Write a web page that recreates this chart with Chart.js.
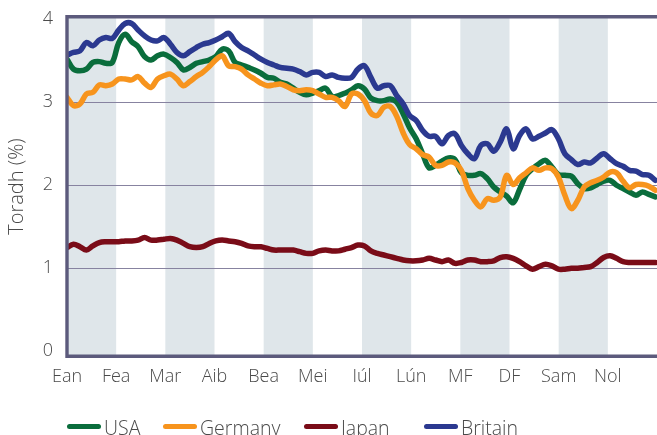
<!DOCTYPE html>
<html>
<head>
<meta charset="utf-8">
<script src="https://cdn.jsdelivr.net/npm/chart.js@4.4.1/dist/chart.umd.min.js"></script>
<style>
  html, body { margin: 0; padding: 0; background: #ffffff; }
  canvas { display: block; }
</style>
</head>
<body>
<canvas id="c" width="657" height="435"></canvas>
<script>
// ---------------- data ----------------
const monthLabels = ['Ean', 'Fea', 'Mar', 'Aib', 'Bea', 'Mei', 'Iúl', 'Lún', 'MF', 'DF', 'Sam', 'Nol'];
const days = Array.from({ length: 92 }, (_, i) => i * 4); // sample days through the year
const yTickValues = [0, 1, 2, 3, 4];
const seriesNames = ['USA', 'Germany', 'Japan', 'Britain'];

const usa = [
  3.52, 3.40, 3.38, 3.40, 3.48, 3.49, 3.47, 3.48, 3.72, 3.82,
  3.73, 3.67, 3.55, 3.51, 3.56, 3.58, 3.54, 3.48, 3.39, 3.42,
  3.47, 3.49, 3.51, 3.55, 3.64, 3.62, 3.48, 3.45, 3.42, 3.39,
  3.35, 3.30, 3.29, 3.24, 3.22, 3.17, 3.12, 3.09, 3.11, 3.14,
  3.17, 3.07, 3.08, 3.11, 3.15, 3.20, 3.16, 3.05, 3.02, 3.02,
  3.04, 3.00, 2.86, 2.69, 2.56, 2.38, 2.21, 2.24, 2.29, 2.33,
  2.31, 2.15, 2.12, 2.12, 2.14, 2.08, 1.98, 1.92, 1.87, 1.79,
  1.95, 2.12, 2.20, 2.26, 2.30, 2.22, 2.13, 2.12, 2.11, 2.02,
  1.96, 1.97, 2.01, 2.05, 2.06, 2.00, 1.96, 1.92, 1.88, 1.92,
  1.89, 1.86
];
const germany = [
  3.06, 2.96, 2.98, 3.10, 3.12, 3.21, 3.20, 3.22, 3.28, 3.28,
  3.27, 3.31, 3.23, 3.18, 3.28, 3.32, 3.34, 3.28, 3.20, 3.25,
  3.31, 3.36, 3.43, 3.51, 3.56, 3.44, 3.43, 3.40, 3.33, 3.28,
  3.23, 3.20, 3.21, 3.22, 3.19, 3.15, 3.14, 3.15, 3.14, 3.10,
  3.06, 3.06, 3.02, 2.95, 3.10, 3.10, 3.02, 2.87, 2.84, 2.94,
  2.95, 2.83, 2.63, 2.49, 2.44, 2.37, 2.34, 2.24, 2.24, 2.28,
  2.27, 2.18, 1.96, 1.82, 1.74, 1.84, 1.82, 1.86, 2.12, 2.01,
  2.09, 2.15, 2.21, 2.18, 2.21, 2.20, 2.10, 1.88, 1.72, 1.82,
  1.98, 2.03, 2.06, 2.10, 2.16, 2.15, 2.05, 1.97, 2.01, 2.01,
  1.99, 1.94
];
const japan = [
  1.25, 1.29, 1.26, 1.22, 1.27, 1.31, 1.32, 1.32, 1.32, 1.33,
  1.33, 1.34, 1.37, 1.34, 1.34, 1.35, 1.36, 1.34, 1.30, 1.26,
  1.25, 1.26, 1.30, 1.33, 1.34, 1.33, 1.32, 1.30, 1.27, 1.26,
  1.26, 1.24, 1.22, 1.22, 1.22, 1.22, 1.20, 1.18, 1.18, 1.21,
  1.22, 1.21, 1.21, 1.23, 1.25, 1.28, 1.27, 1.21, 1.18, 1.16,
  1.14, 1.12, 1.10, 1.09, 1.09, 1.10, 1.12, 1.10, 1.08, 1.10,
  1.06, 1.07, 1.10, 1.10, 1.08, 1.08, 1.09, 1.13, 1.14, 1.12,
  1.08, 1.03, 0.99, 1.02, 1.05, 1.03, 0.99, 0.99, 1.00, 1.00,
  1.01, 1.02, 1.07, 1.13, 1.15, 1.12, 1.08, 1.07, 1.07, 1.07,
  1.07, 1.07
];
const britain = [
  3.57, 3.60, 3.62, 3.72, 3.68, 3.75, 3.78, 3.77, 3.87, 3.95,
  3.95, 3.87, 3.80, 3.75, 3.74, 3.78, 3.70, 3.60, 3.56, 3.61,
  3.66, 3.70, 3.72, 3.75, 3.79, 3.83, 3.73, 3.66, 3.62, 3.57,
  3.52, 3.48, 3.45, 3.42, 3.41, 3.40, 3.37, 3.33, 3.36, 3.36,
  3.31, 3.33, 3.30, 3.29, 3.30, 3.40, 3.44, 3.30, 3.17, 3.20,
  3.20, 3.08, 2.98, 2.84, 2.78, 2.66, 2.59, 2.59, 2.50, 2.60,
  2.62, 2.48, 2.38, 2.32, 2.48, 2.50, 2.41, 2.52, 2.68, 2.44,
  2.60, 2.68, 2.56, 2.59, 2.63, 2.67, 2.56, 2.38, 2.31, 2.25,
  2.28, 2.27, 2.33, 2.38, 2.32, 2.26, 2.23, 2.18, 2.17, 2.13,
  2.12, 2.06
];

// ---------------- styling ----------------
const FONT = "'Open Sans', 'DejaVu Sans', sans-serif";
const TEXT = '#4a4a4a';
const COLORS = ['#0a6d3c', '#f7941d', '#7a0c18', '#2b3990'];
const DRAW_ORDER = [2, 1, 3, 0];
const YEAR = 365;

const toPoints = arr => arr.map((v, i) => ({ x: days[i], y: v }));
const allSeries = [usa, germany, japan, britain];

const bandsPlugin = {
  id: 'bands',
  beforeDraw(chart) {
    const { ctx, chartArea: a, scales: { x } } = chart;
    ctx.save();
    ctx.fillStyle = '#dfe6ea';
    for (let m = 0; m < monthLabels.length; m += 2) {
      const x0 = x.getPixelForValue(m * YEAR / 12);
      const x1 = x.getPixelForValue((m + 1) * YEAR / 12);
      ctx.fillRect(x0, a.top, x1 - x0, a.bottom - a.top);
    }
    ctx.restore();
  }
};

const framePlugin = {
  id: 'frame',
  afterDraw(chart) {
    const { ctx, chartArea: a } = chart;
    ctx.save();
    ctx.strokeStyle = '#5c5a7c';
    ctx.lineWidth = 3.4;
    ctx.lineJoin = 'miter';
    ctx.beginPath();
    ctx.moveTo(a.right + 4, a.top);
    ctx.lineTo(a.left, a.top);
    ctx.lineTo(a.left, a.bottom);
    ctx.lineTo(a.right + 4, a.bottom);
    ctx.stroke();
    ctx.restore();
  }
};

const legendPlugin = {
  id: 'customLegend',
  afterDraw(chart) {
    const { ctx } = chart;
    const starts = [67, 163, 304, 424];
    ctx.save();
    ctx.font = `300 19.5px ${FONT}`;
    ctx.fillStyle = TEXT;
    ctx.textBaseline = 'alphabetic';
    ctx.textAlign = 'left';
    chart.data.datasets.forEach((ds, i) => {
      const sx = starts[i];
      ctx.strokeStyle = ds.borderColor;
      ctx.lineWidth = 5;
      ctx.lineCap = 'round';
      ctx.beginPath();
      ctx.moveTo(sx + 2.5, 426.5);
      ctx.lineTo(sx + 31.5, 426.5);
      ctx.stroke();
      ctx.fillText(ds.label, sx + 37, 434.5);
    });
    ctx.restore();
  }
};

new Chart(document.getElementById('c'), {
  type: 'line',
  data: {
    datasets: allSeries.map((arr, i) => ({
      label: seriesNames[i],
      data: toPoints(arr),
      borderColor: COLORS[i],
      backgroundColor: COLORS[i],
      borderWidth: 5.5,
      borderCapStyle: 'round',
      borderJoinStyle: 'round',
      pointRadius: 0,
      pointHoverRadius: 0,
      tension: 0.35,
      fill: false,
      order: DRAW_ORDER[i]
    }))
  },
  options: {
    responsive: false,
    animation: false,
    devicePixelRatio: 1,
    layout: { padding: { left: 0, right: 0, top: 16.8, bottom: 0 } },
    plugins: {
      legend: { display: false },
      tooltip: { enabled: false }
    },
    scales: {
      x: {
        type: 'linear',
        min: 0,
        max: YEAR,
        afterBuildTicks: s => { s.ticks = monthLabels.map((_, m) => ({ value: m * YEAR / 12 })); },
        afterFit: s => { s.height = 435 - 356.3; s.paddingLeft = 0; s.paddingRight = 0; },
        grid: { display: false, drawTicks: false },
        border: { display: false },
        ticks: {
          autoSkip: false,
          maxRotation: 0,
          minRotation: 0,
          padding: 10,
          color: TEXT,
          font: { family: FONT, size: 18, weight: 300 },
          callback: (v, i) => monthLabels[i]
        }
      },
      y: {
        type: 'linear',
        min: -0.06,
        max: 4.03,
        afterBuildTicks: s => { s.ticks = yTickValues.map(v => ({ value: v })); },
        afterFit: s => { s.width = 67; s.paddingTop = 0; s.paddingBottom = 0; },
        grid: {
          drawTicks: false,
          lineWidth: 1,
          color: c => (c.tick && c.tick.value > 0 && c.tick.value < 4) ? '#8783a0' : 'rgba(0,0,0,0)'
        },
        border: { display: false },
        ticks: {
          padding: 14,
          color: TEXT,
          font: { family: FONT, size: 18, weight: 300 },
          callback: v => String(v)
        },
        title: {
          display: true,
          text: 'Toradh (%)',
          color: TEXT,
          padding: { top: 5, bottom: 0 },
          font: { family: FONT, size: 20, weight: 300 }
        }
      }
    }
  },
  plugins: [bandsPlugin, framePlugin, legendPlugin]
});
</script>
</body>
</html>
